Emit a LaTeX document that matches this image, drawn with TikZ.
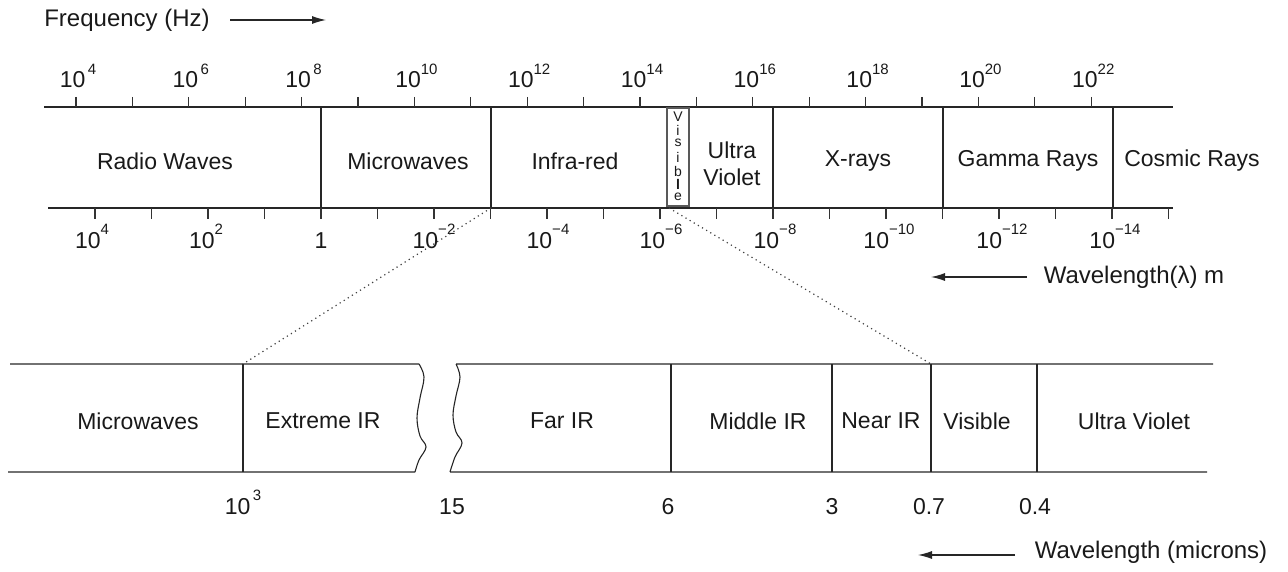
\documentclass[tikz,border=0pt]{standalone}
\usepackage{fontspec}
\setmainfont{Liberation Sans}
\usetikzlibrary{arrows.meta}
\newcommand{\tenpow}[1]{10\raisebox{0.6em}{\fontsize{15}{15}\selectfont\,#1}}
\newcommand{\tenpx}[1]{10\raisebox{0.6em}{\fontsize{15}{15}\selectfont #1}}
\tikzset{
  ln/.style={line width=1.1pt, draw=black!85},
  tk/.style={line width=1.1pt, draw=black!80},
  lbl/.style={font=\fontsize{23}{27}\selectfont, text=black!90, inner sep=0pt},
  ttl/.style={font=\fontsize{24}{28}\selectfont, text=black!90, inner sep=0pt},
  vis/.style={font=\fontsize{14}{15}\selectfont, text=black!90, inner sep=0pt},
  dotl/.style={line width=1.2pt, draw=black!75, dash pattern=on 1.2pt off 3.6pt},
  arr/.style={line width=1.1pt, draw=black!85, -{Latex[length=14pt,width=8pt]}}
}
\begin{document}
\begin{tikzpicture}[x=1pt,y=-1pt]
\useasboundingbox (0,0) rectangle (1288,572);
% title and arrow
\node[ttl] (freq) at (127,20) {Frequency (Hz)};
\coordinate (fa1) at (230,20);
\coordinate (fa2) at (326,20);
\draw[arr] (fa1) -- (fa2);
% top band lines
\coordinate (tl) at (44,107); \coordinate (tr) at (1173,107);
\coordinate (bl) at (48,208); \coordinate (br) at (1173,208);
\draw[ln] (tl) -- (tr);
\draw[ln] (bl) -- (br);
% top ticks
\foreach \k in {0,...,18} {
  \draw[tk] ({76+56.4*\k},97) -- ({76+56.4*\k},107);
}
% bottom ticks
\foreach \k in {0,...,19} {
  \draw[tk] ({95+56.5*\k},208) -- ({95+56.5*\k},219);
}
% dividers
\foreach \x in {321,491,773,943,1113} {
  \draw[ln] (\x,107) -- (\x,208);
}
% visible box
\node[draw=black!65, line width=1.5pt, minimum width=22pt, minimum height=98pt, inner sep=0pt] (visbox) at (678,157) {};
\node[vis] (v1) at (678,117) {V};
\node[vis] (v2) at (678,130) {i};
\node[vis] (v3) at (678,143) {s};
\node[vis] (v4) at (678,157) {i};
\node[vis] (v5) at (678,171) {b};
\node[vis] (v6) at (678,184) {\textbf{l}};
\node[vis] (v7) at (678,197) {e};
% frequency labels
\foreach \k [evaluate=\k as \e using int(4+2*\k)] in {0,...,9} {
  \node[lbl, anchor=base] (f\k) at ({78+112.8*\k},88) {\ifnum\e<10 \tenpow{\e}\else\tenpx{\e}\fi};
}
% band labels
\node[lbl] (radio) at (165,161) {Radio Waves};
\node[lbl] (micro) at (408,161) {Microwaves};
\node[lbl] (infra) at (575,161) {Infra-red};
\node[lbl, align=center] (uv) at (732,164) {Ultra\\Violet};
\node[lbl] (xray) at (858,161) {X-rays};
\node[lbl] (gamma) at (1028,161) {Gamma Rays};
\node[lbl] (cosmic) at (1192,161) {Cosmic Rays};
% wavelength labels
\node[lbl, anchor=base] (w0) at (92,248) {\tenpx{4}};
\node[lbl, anchor=base] (w1) at (206,248) {\tenpx{2}};
\node[lbl, anchor=base] (w2) at (321,248) {1};
\node[lbl, anchor=base] (w3) at (434,248) {\tenpx{−2}};
\node[lbl, anchor=base] (w4) at (548,248) {\tenpx{−4}};
\node[lbl, anchor=base] (w5) at (661,248) {\tenpx{−6}};
\node[lbl, anchor=base] (w6) at (775,248) {\tenpx{−8}};
\node[lbl, anchor=base] (w7) at (889,248) {\tenpx{−10}};
\node[lbl, anchor=base] (w8) at (1002,248) {\tenpx{−12}};
\node[lbl, anchor=base] (w9) at (1115,248) {\tenpx{−14}};
% wavelength title
\node[ttl] (wlm) at (1134,277) {Wavelength(λ) m};
\coordinate (wa1) at (1027,277);
\coordinate (wa2) at (931,277);
\draw[arr] (wa1) -- (wa2);
% dotted zoom lines
\coordinate (zA) at (491,208); \coordinate (zB) at (243,364);
\coordinate (zC) at (669,208); \coordinate (zD) at (931,364);
\draw[dotl] (zA) -- (zB);
\draw[dotl] (zC) -- (zD);
% bottom band left part
\draw[ln] (10,364) -- (419,364)
  plot[smooth, tension=0.6] coordinates {(419,364) (424,377) (420,398) (417,418) (420,436) (426,447) (419,460) (415,472)}
  (415,472) -- (8,472);
% bottom band right part
\draw[ln] (1213,364) -- (456,364)
  plot[smooth, tension=0.6] coordinates {(456,364) (460,377) (456,396) (453,415) (456,432) (462,443) (455,457) (450,472)}
  (450,472) -- (1207,472);
% bottom dividers
\foreach \x in {243,671,832,931,1037} {
  \draw[ln] (\x,364) -- (\x,472);
}
% bottom band labels
\node[lbl] (bmicro) at (138,421) {Microwaves};
\node[lbl] (bext) at (323,421) {Extreme IR};
\node[lbl] (bfar) at (562,421) {Far IR};
\node[lbl] (bmid) at (758,421) {Middle IR};
\node[lbl] (bnear) at (881,421) {Near IR};
\node[lbl] (bvis) at (977,421) {Visible};
\node[lbl] (buv) at (1134,421) {Ultra Violet};
% micron labels
\node[lbl, anchor=base] (m0) at (243,514) {\tenpow{3}};
\node[lbl, anchor=base] (m1) at (452,514) {15};
\node[lbl, anchor=base] (m2) at (668,514) {6};
\node[lbl, anchor=base] (m3) at (832,514) {3};
\node[lbl, anchor=base] (m4) at (929,514) {0.7};
\node[lbl, anchor=base] (m5) at (1035,514) {0.4};
% micron title
\node[ttl] (wlmu) at (1151,552) {Wavelength (microns)};
\coordinate (ma1) at (1015,555);
\coordinate (ma2) at (918,555);
\draw[arr] (ma1) -- (ma2);
\end{tikzpicture}
\end{document}
